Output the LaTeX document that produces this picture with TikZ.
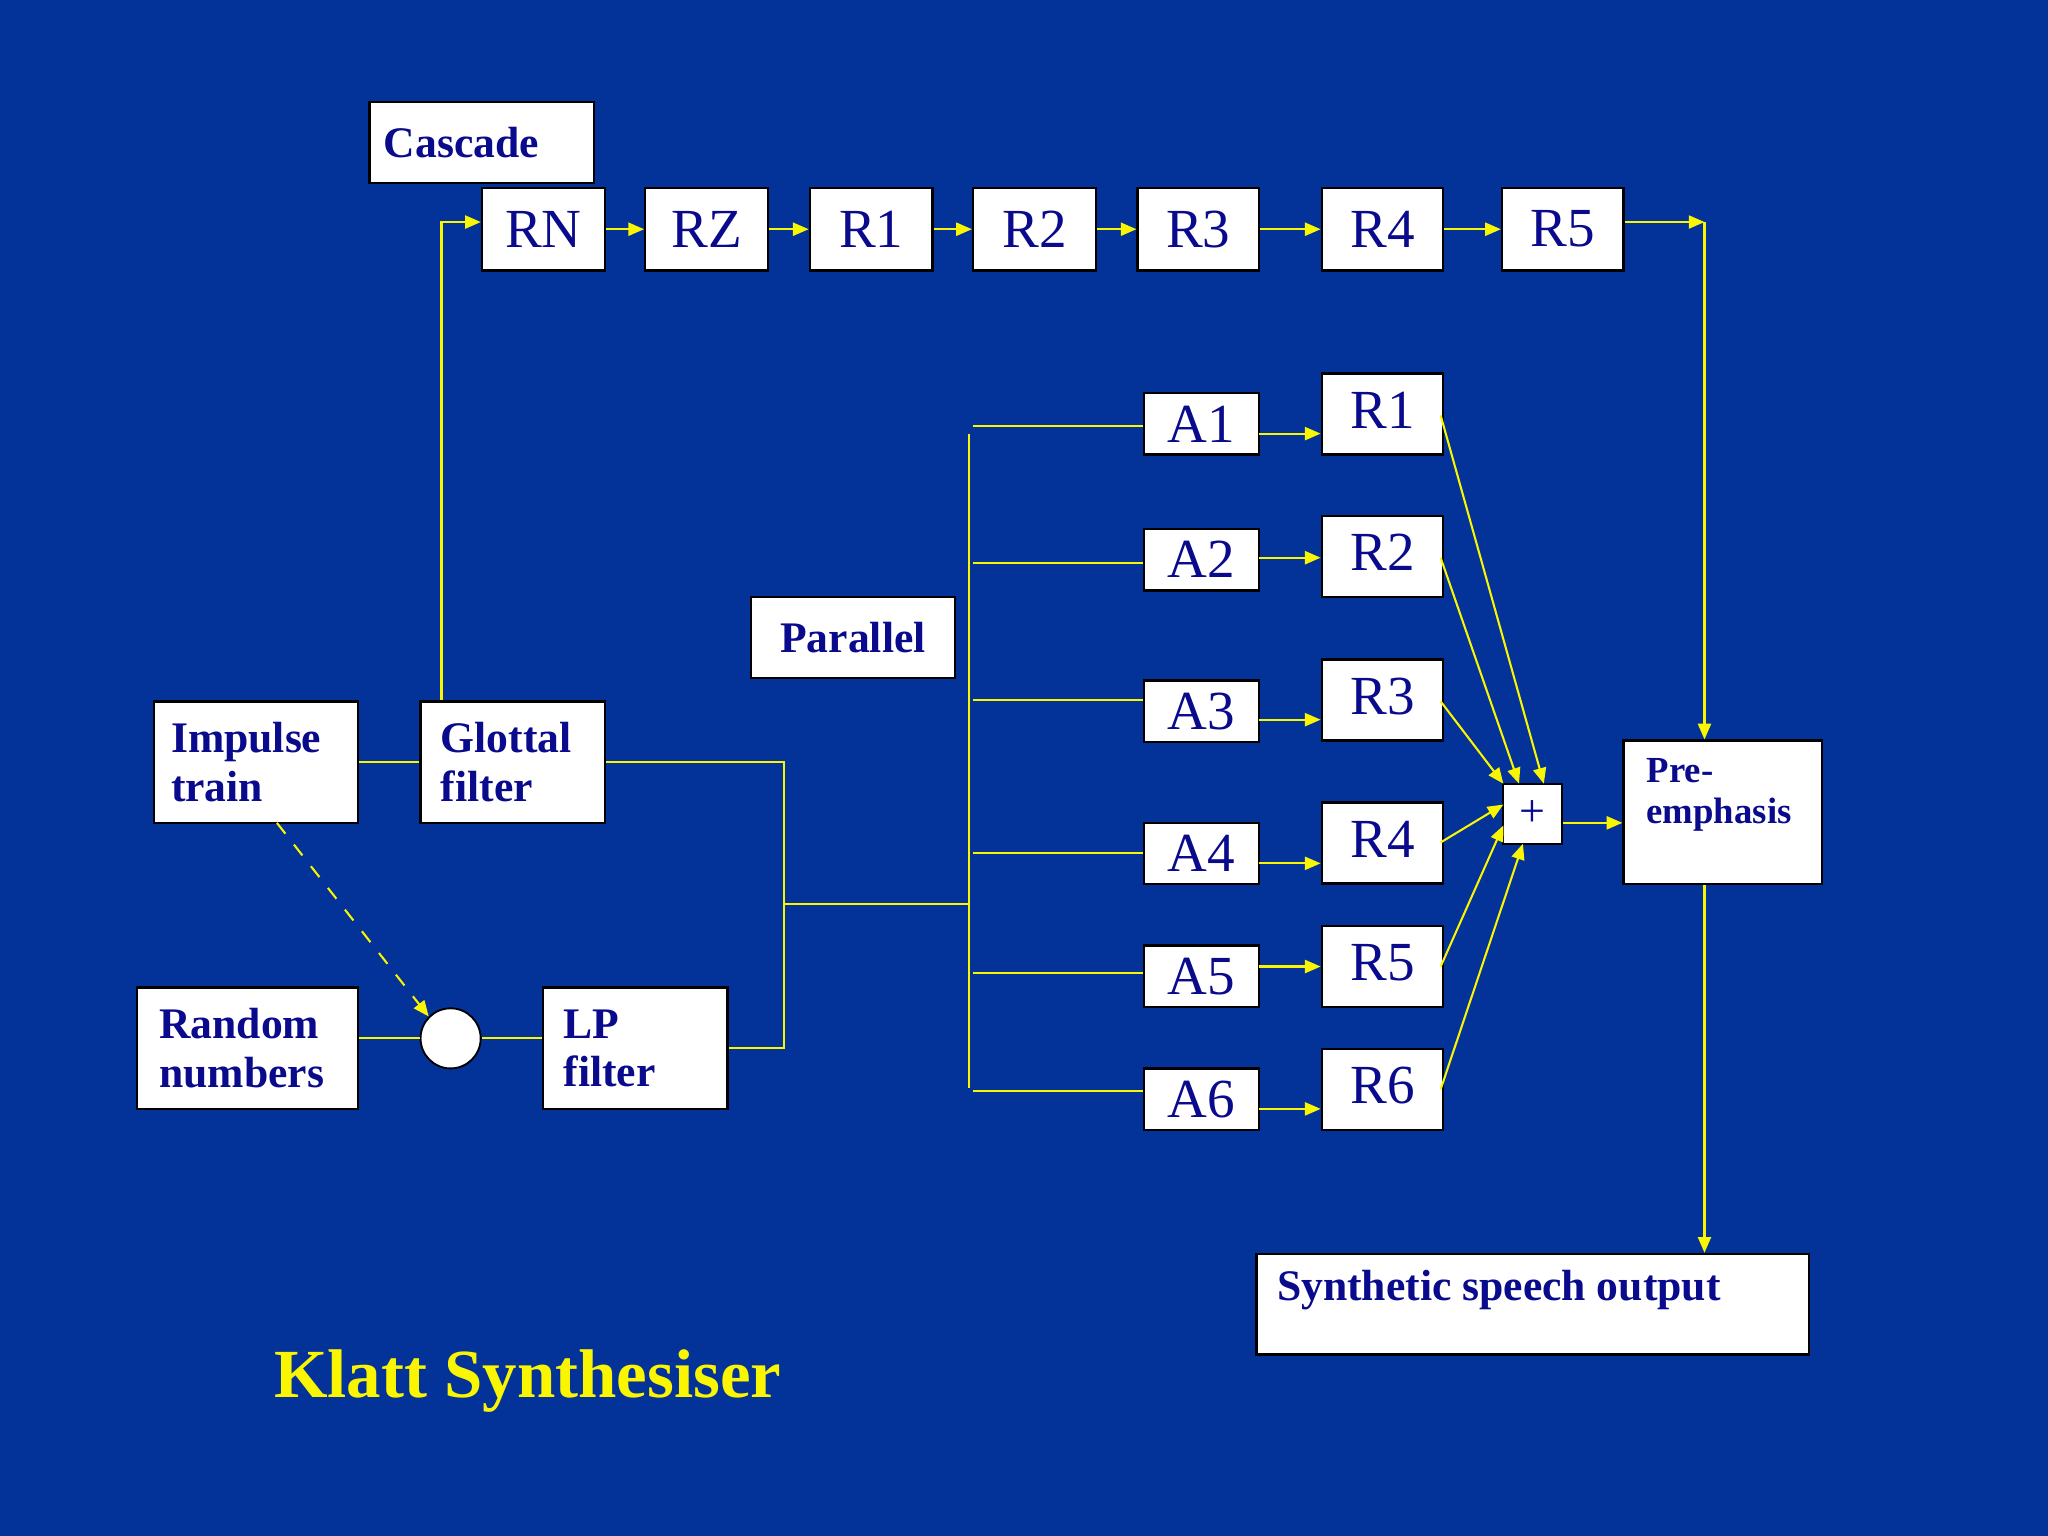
\documentclass[tikz,border=0pt]{standalone}
\usepackage{fontspec}
\setmainfont{Liberation Serif}
\usetikzlibrary{arrows.meta}
\definecolor{bg}{RGB}{3,51,153}
\definecolor{tx}{RGB}{10,10,140}
\definecolor{yl}{RGB}{250,245,0}
\begin{document}
\begin{tikzpicture}[x=0.01cm,y=-0.01cm,
 box/.style={draw=black,fill=white,text=tx,inner sep=0pt,line width=0.5pt},
 big/.style={font=\fontsize{12}{12}\selectfont},
 bold/.style={font=\fontsize{9.5}{10.5}\selectfont\bfseries,align=left},
 ln/.style={draw=yl,line width=0.45pt},
 ar/.style={ln,-{Triangle[length=1.2mm,width=1mm]}},
 sz/.style 2 args={minimum width=#1*0.01cm,minimum height=#2*0.01cm}]
\fill[bg] (0,0) rectangle (1568,1176);
% cascade
\node[box,sz={172}{62},bold,text width=1.5cm] (cas) at (369,109) {Cascade};
\foreach \n/\x in {RN/416,RZ/541,C1/667,C2/792,C3/917.5,C4/1058.5,C5/1196.5}{}
\node[box,big,sz={94}{63}] (RN) at (416,175.5) {RN};
\node[box,big,sz={94}{63}] (RZ) at (541,175.5) {RZ};
\node[box,big,sz={94}{63}] (C1) at (667,175.5) {R1};
\node[box,big,sz={94}{63}] (C2) at (792,175.5) {R2};
\node[box,big,sz={93}{63}] (C3) at (917.5,175.5) {R3};
\node[box,big,sz={93}{63}] (C4) at (1058.5,175.5) {R4};
\node[box,big,sz={93}{63}] (C5) at (1196.5,175.5) {R5};
\draw[ar] (RN.east) -- (RZ.west);
\draw[ar] (RZ.east) -- (C1.west);
\draw[ar] (C1.east) -- (C2.west);
\draw[ar] (C2.east) -- (C3.west);
\draw[ar] (C3.east) -- (C4.west);
\draw[ar] (C4.east) -- (C5.west);
% sources
\node[box,bold,sz={156}{93},text width=1.3cm] (imp) at (196,583.5) {Impulse\\train};
\node[box,bold,sz={141}{93},text width=1.1cm] (glo) at (392.5,583.5) {Glottal\\filter};
\node[box,bold,sz={169}{93},text width=1.35cm] (ran) at (189.5,802.5) {Random\\numbers};
\node[draw=black,fill=white,circle,minimum size=0.46cm,inner sep=0pt] (mix) at (345,795) {};
\node[box,bold,sz={141}{93},text width=1.1cm] (lp) at (486.5,802.5) {LP\\filter};
\draw[ln] (imp.east) -- (glo.west);
\draw[ln] (ran.east |- mix) -- (mix.west);
\draw[ln] (mix.east) -- (lp.west |- mix);
\draw[ar,dashed] (212,630) -- (mix.north west);
\coordinate (ci) at (338,170);
\draw[ar] (glo.north -| ci) -- (ci) -- (RN.west |- ci);
\coordinate (j) at (600,692);
\coordinate (bus) at (742,692);
\draw[ln] (glo.east) -| (j) |- (lp.east);
\draw[ln] (j) -- (bus);
\draw[ln] (742,332) -- (742,833);
\node[box,bold,sz={156}{62}] (par) at (653,488) {Parallel};
% parallel
\foreach \i/\ay/\ry/\ly in {1/324.5/317/326,2/428.5/426/431,3/544.5/536/536,4/653.5/645.5/653,5/747.5/740/745,6/841.5/834/835}{
 \node[box,big,sz={88}{47}] (A\i) at (920,\ay) {\raisebox{-1.3mm}{A\i}};
 \node[box,big,sz={93}{62}] (P\i) at (1058.5,\ry) {\raisebox{0.6mm}{R\i}};
 \coordinate (L\i) at (745,\ly);
 \draw[ln] (L\i) -- (A\i.west |- L\i);
}
\draw[ar] (964,332) -- (P1.west |- 0,332);
\draw[ar] (964,427) -- (P2.west |- 0,427);
\draw[ar] (964,551) -- (P3.west |- 0,551);
\draw[ar] (964,661) -- (P4.west |- 0,661);
\draw[ar] (964,740) -- (P5.west |- 0,740);
\draw[ar] (964,849) -- (P6.west |- 0,849);
\node[box,sz={45}{46},font=\fontsize{10}{10}\selectfont] (sum) at (1173.5,623) {+};
\draw[ar] (1103,318) -- (1182,600);
\draw[ar] (1103,427) -- (1163,600);
\draw[ar] (1103,537) -- (1151,600);
\draw[ar] (1103,645) -- (1151,616);
\draw[ar] (1103,740) -- (1151,632);
\draw[ar] (1103,834) -- (1166,646);
\node[box,sz={152}{110}] (pre) at (1319,622) {};
\node[text=tx,font=\fontsize{8}{9}\selectfont\bfseries,align=left,anchor=north west,inner sep=0pt] (pret) at (1260,580) {Pre-\\emphasis};
\draw[ar] (sum.east |- 0,630) -- (pre.west |- 0,630);
\coordinate (co) at (1305,170);
\draw[ar] (C5.east |- co) -- (co);
\draw[ar] (co) -- (pre.north -| co);
\node[box,sz={423}{77}] (out) at (1173.5,998.5) {};
\node[text=tx,font=\fontsize{9.5}{10}\selectfont\bfseries,anchor=north west,inner sep=0pt] (outt) at (977,972) {Synthetic speech output};
\draw[ar] (pre.south -| co) -- (out.north -| co);
\node[text=yl,font=\fontsize{15}{15}\selectfont\bfseries,inner sep=0pt] (title) at (404,1057) {Klatt Synthesiser};
\end{tikzpicture}
\end{document}
